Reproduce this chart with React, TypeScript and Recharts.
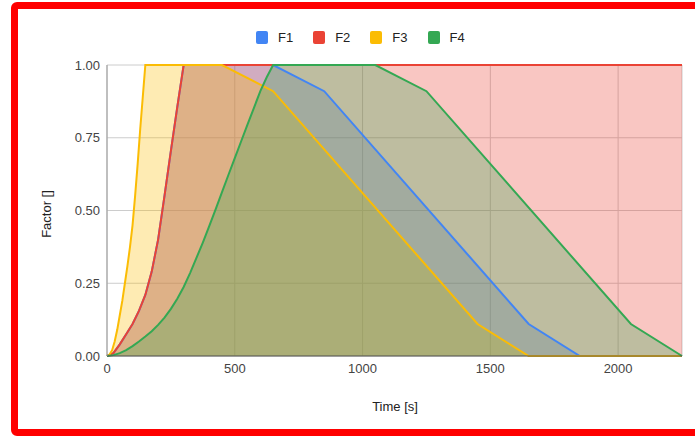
import React from "react";
import {
  CartesianGrid,
  ComposedChart,
  Area,
  Line,
  XAxis,
  YAxis,
} from "recharts";

// [time (s), factor] points
const f1Points: [number, number][] = [
  [0, 0], [25, 0.01], [50, 0.04], [75, 0.075], [100, 0.11], [125, 0.155],
  [150, 0.21], [175, 0.29], [200, 0.4], [225, 0.55], [250, 0.705],
  [275, 0.855], [300, 1], [650, 1], [850, 0.91], [1650, 0.11], [1850, 0],
  [2250, 0],
];
const f2Points: [number, number][] = [
  [0, 0], [25, 0.01], [50, 0.04], [75, 0.075], [100, 0.11], [125, 0.155],
  [150, 0.21], [175, 0.29], [200, 0.4], [225, 0.55], [250, 0.705],
  [275, 0.855], [300, 1], [2250, 1],
];
const f3Points: [number, number][] = [
  [0, 0], [10, 0.005], [20, 0.02], [30, 0.05], [40, 0.09], [50, 0.14],
  [60, 0.19], [70, 0.25], [80, 0.31], [90, 0.375], [100, 0.45], [110, 0.55],
  [120, 0.66], [130, 0.78], [140, 0.89], [150, 1], [450, 1], [650, 0.91],
  [1450, 0.11], [1650, 0], [2250, 0],
];
const f4Points: [number, number][] = [
  [0, 0], [25, 0.003], [50, 0.01], [75, 0.02], [100, 0.034], [125, 0.05],
  [150, 0.067], [175, 0.085], [200, 0.107], [225, 0.132], [250, 0.162],
  [275, 0.197], [300, 0.237], [325, 0.285], [350, 0.337], [375, 0.39],
  [400, 0.446], [425, 0.504], [450, 0.563], [475, 0.622], [500, 0.68],
  [525, 0.738], [550, 0.796], [575, 0.853], [600, 0.91], [625, 0.958],
  [650, 1], [1050, 1], [1250, 0.91], [2050, 0.11], [2250, 0],
];

const seriesNames = ["F1", "F2", "F3", "F4"];
const seriesColors = ["#4285f4", "#ea4335", "#fbbc04", "#34a853"];
const xTicks = [0, 500, 1000, 1500, 2000];
const yTicks = [0, 0.25, 0.5, 0.75, 1];

const allSeries = [f1Points, f2Points, f3Points, f4Points];
const allTimes = Array.from(
  new Set(allSeries.flatMap((s) => s.map((p) => p[0])))
).sort((a, b) => a - b);

const rows = allTimes.map((t) => {
  const row: Record<string, number | null> = { t };
  allSeries.forEach((s, idx) => {
    const hit = s.find((p) => p[0] === t);
    row[seriesNames[idx]] = hit ? hit[1] : null;
  });
  return row;
});

const FONT = "Arial, 'Liberation Sans', sans-serif";

const App = () => {
  return (
    <div
      style={{
        position: "fixed",
        left: 0,
        top: 0,
        width: 695,
        height: 436,
        overflow: "hidden",
        background: "#fff",
        fontFamily: FONT,
      }}
    >
      <div
        style={{
          position: "absolute",
          left: 11,
          top: 2,
          width: 720,
          height: 434,
          border: "7px solid #ff0000",
          borderRadius: 6,
          boxSizing: "border-box",
        }}
      />
      <div
        style={{
          position: "absolute",
          left: 256,
          top: 30,
          display: "flex",
          alignItems: "center",
          fontSize: 13,
          color: "#222",
          height: 14,
        }}
      >
        {seriesNames.map((name, idx) => (
          <div
            key={name}
            style={{ display: "flex", alignItems: "center", marginRight: 20 }}
          >
            <div
              style={{
                width: 12,
                height: 13,
                borderRadius: 2,
                background: seriesColors[idx],
                marginRight: 10,
              }}
            />
            <span>{name}</span>
          </div>
        ))}
      </div>
      <ComposedChart
        width={695}
        height={436}
        data={rows}
        margin={{ top: 65, right: 13, bottom: 0, left: 0 }}
        style={{ position: "absolute", left: 0, top: 0 }}
      >
        <CartesianGrid stroke="#cccccc" strokeWidth={1} />
        <XAxis
          dataKey="t"
          type="number"
          domain={[0, 2250]}
          ticks={xTicks}
          height={80}
          stroke="#555"
          tickLine={false}
          tick={{ fill: "#444", fontSize: 13, fontFamily: FONT }}
          label={{
            content: () => (
              <text
                x={395}
                y={406}
                textAnchor="middle"
                dominantBaseline="central"
                fill="#222"
                fontSize={13}
                fontFamily={FONT}
              >
                Time [s]
              </text>
            ),
          }}
        />
        <YAxis
          type="number"
          domain={[0, 1]}
          ticks={yTicks}
          width={107}
          stroke="#999"
          tickLine={false}
          tickSize={5}
          tickFormatter={(v: number) => v.toFixed(2)}
          tick={{ fill: "#444", fontSize: 13, fontFamily: FONT }}
          label={{
            content: () => (
              <text
                x={46}
                y={214}
                transform="rotate(-90 46 214)"
                textAnchor="middle"
                dominantBaseline="central"
                fill="#222"
                fontSize={13}
                fontFamily={FONT}
              >
                Factor []
              </text>
            ),
          }}
        />
        {seriesNames.map((name, idx) => (
          <Area
            key={`area-${name}`}
            dataKey={name}
            type="linear"
            stroke="none"
            fill={seriesColors[idx]}
            fillOpacity={0.3}
            connectNulls
            isAnimationActive={false}
            activeDot={false}
          />
        ))}
        {seriesNames.map((name, idx) => (
          <Line
            key={`line-${name}`}
            dataKey={name}
            type="linear"
            stroke={seriesColors[idx]}
            strokeWidth={2}
            dot={false}
            connectNulls
            isAnimationActive={false}
            activeDot={false}
          />
        ))}
      </ComposedChart>
    </div>
  );
};

export default App;
